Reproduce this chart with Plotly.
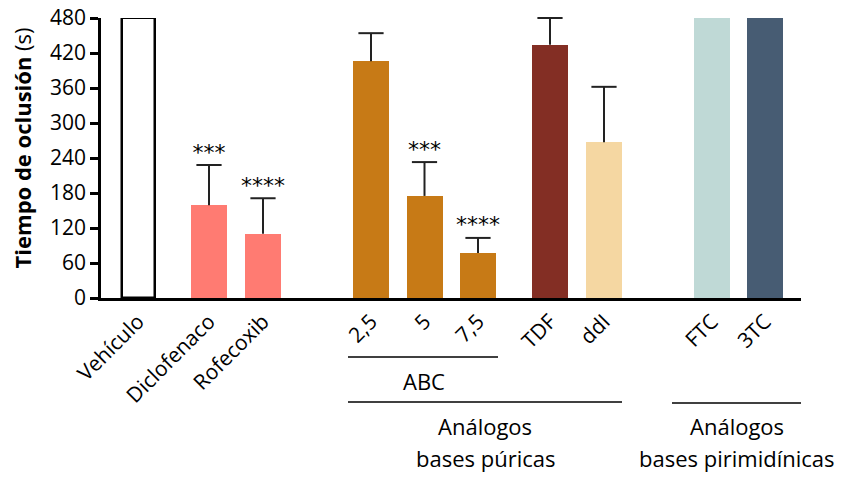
import plotly.graph_objects as go

categories = ["Vehículo", "Diclofenaco", "Rofecoxib", "2,5", "5", "7,5", "TDF", "ddI", "FTC", "3TC"]
values = [480, 159, 110, 406, 175, 77, 434, 267, 480, 480]
errors = [0, 69, 61, 48, 58, 26, 46, 95, 0, 0]
significance = ["", "***", "****", "", "***", "****", "", "", "", ""]
y_ticks = [0, 60, 120, 180, 240, 300, 360, 420, 480]

# layout (x positions on a pixel-like axis scale)
positions = [37, 108, 162, 270, 323.5, 377, 449, 503, 611, 664]
colors = ["#FFFFFF", "#FF7B72", "#FF7B72", "#C77A16", "#C77A16", "#C77A16",
          "#832E24", "#F5D7A2", "#BFD9D6", "#475C73"]

FONT = "Open Sans"

fig = go.Figure()
fig.add_trace(go.Bar(
    x=positions, y=values, width=[33] + [36] * 9,
    marker=dict(color=colors,
                line=dict(color="black", width=[2.5] + [0] * 9)),
    showlegend=False, hoverinfo="skip",
))

# upper-only error bars
ex, ey, cx, cy = [], [], [], []
for p, v, e in zip(positions, values, errors):
    if e > 0:
        ex += [p, p, None]
        ey += [v, v + e, None]
        cx.append(p)
        cy.append(v + e)
fig.add_trace(go.Scatter(x=ex, y=ey, mode="lines", line=dict(color="#222", width=2),
                         showlegend=False, hoverinfo="skip", cliponaxis=False))
fig.add_trace(go.Scatter(x=cx, y=cy, mode="markers",
                         marker=dict(symbol="line-ew", size=18, line=dict(color="#222", width=2)),
                         showlegend=False, hoverinfo="skip", cliponaxis=False))

# significance stars
sx, sy, st = [], [], []
for p, v, e, s in zip(positions, values, errors, significance):
    if s:
        sx.append(p)
        sy.append(v + e)
        st.append(s)
fig.add_trace(go.Scatter(x=sx, y=sy, mode="text", text=st, textposition="top center",
                         textfont=dict(family="DejaVu Sans", size=22, color="black"),
                         showlegend=False, hoverinfo="skip", cliponaxis=False))

fig.update_layout(
    width=841, height=477,
    margin=dict(l=101, r=40, t=18, b=179),
    plot_bgcolor="white", paper_bgcolor="white",
    font=dict(family=FONT, color="black", size=19),
    bargap=0,
    xaxis=dict(range=[0, 700], showline=True, linecolor="black", linewidth=3,
               tickmode="array", tickvals=positions, ticktext=categories,
               tickangle=-45, ticks="", showgrid=False, zeroline=False,
               automargin=False, ticklabeloverflow="allow",
               tickfont=dict(family=FONT, size=21)),
    yaxis=dict(range=[0, 480], showline=True, linecolor="black", linewidth=2.5,
               tickmode="array", tickvals=y_ticks, ticks="outside", ticklen=8,
               tickwidth=2.5, tickcolor="black", showgrid=False, zeroline=False,
               automargin=False, ticklabeloverflow="allow",
               tickfont=dict(family=FONT, size=21)),
)

fig.add_annotation(xref="paper", yref="paper", x=-0.113, y=0.5375,
                   text="<b>Tiempo de oclusión</b> (s)", textangle=-90,
                   showarrow=False, xanchor="center", yanchor="middle",
                   font=dict(family=FONT, size=22))

def ypx(py):
    return (298 - py) / 280

# group lines
fig.add_shape(type="line", xref="x", yref="paper", x0=247, x1=397, y0=ypx(357), y1=ypx(357),
              line=dict(color="black", width=1.5))
fig.add_shape(type="line", xref="x", yref="paper", x0=247, x1=521, y0=ypx(402), y1=ypx(402),
              line=dict(color="black", width=1.5))
fig.add_shape(type="line", xref="x", yref="paper", x0=571, x1=701, y0=ypx(403), y1=ypx(403),
              line=dict(color="black", width=1.5))

for x, py, txt in [(323, 381, "ABC"), (384, 426, "Análogos"), (384, 458, "bases púricas"),
                   (636, 426, "Análogos"), (636, 458, "bases pirimidínicas")]:
    fig.add_annotation(xref="x", yref="paper", x=x, y=ypx(py), text=txt, showarrow=False,
                       xanchor="center", yanchor="middle", font=dict(family=FONT, size=22))

fig.write_html("out.html",
               config={"displayModeBar": False},
               post_script="document.body.style.margin='0';document.body.style.overflow='hidden';")
